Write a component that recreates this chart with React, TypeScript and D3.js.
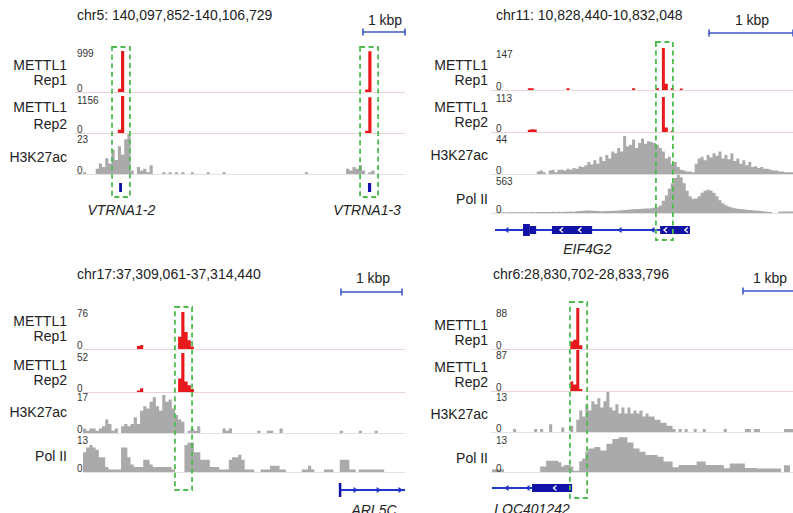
import React from 'react';
import * as d3 from 'd3';

// ---------------- DATA (bin values, 100 bins per panel) ----------------
// Panel 1: chr5 VTRNA1-2 / VTRNA1-3
const p1Rep1 = [
  0, 0, 0, 0, 0, 0, 0, 0, 0, 0,
  0, 80, 999, 0, 0, 0, 0, 0, 0, 0,
  0, 0, 0, 0, 0, 0, 0, 0, 0, 0,
  0, 0, 0, 0, 0, 0, 0, 0, 0, 0,
  0, 0, 0, 0, 0, 0, 0, 0, 0, 0,
  0, 0, 0, 0, 0, 0, 0, 0, 0, 0,
  0, 0, 0, 0, 0, 0, 0, 0, 0, 0,
  0, 0, 0, 0, 0, 0, 0, 0, 0, 0,
  0, 0, 0, 0, 0, 0, 0, 0, 0, 60,
  990, 0, 0, 0, 0, 0, 0, 0, 0, 0,
];
const p1Rep2 = [
  0, 0, 0, 0, 0, 0, 0, 0, 0, 0,
  0, 100, 1156, 0, 0, 0, 0, 0, 0, 0,
  0, 0, 0, 0, 0, 0, 0, 0, 0, 0,
  0, 0, 0, 0, 0, 0, 0, 0, 0, 0,
  0, 0, 0, 0, 0, 0, 0, 0, 0, 0,
  0, 0, 0, 0, 0, 0, 0, 0, 0, 0,
  0, 0, 0, 0, 0, 0, 0, 0, 0, 0,
  0, 0, 0, 0, 0, 0, 0, 0, 0, 0,
  0, 0, 0, 0, 0, 0, 0, 0, 0, 70,
  1120, 0, 0, 0, 0, 0, 0, 0, 0, 0,
];
const p1H3K27ac = [
  1, 0, 0, 0, 3, 6, 4, 9, 6, 14,
  8, 16, 11, 20, 23, 2, 0, 4, 2, 3,
  1, 5, 0, 0, 0, 1, 0, 1, 0, 1,
  0, 1, 0, 0, 1, 0, 0, 0, 0, 1,
  0, 0, 0, 0, 1, 0, 0, 0, 0, 0,
  0, 0, 0, 0, 0, 0, 0, 0, 0, 0,
  0, 0, 0, 0, 0, 0, 0, 0, 0, 0,
  1, 0, 0, 0, 0, 0, 0, 0, 0, 0,
  0, 0, 0, 3, 2, 4, 3, 5, 2, 0,
  1, 2, 0, 0, 0, 0, 0, 0, 0, 0,
];

// Panel 2: chr11 EIF4G2
const p2Rep1 = [
  0, 0, 0, 0, 0, 0, 0, 0, 0, 0,
  0, 6, 6, 0, 0, 0, 0, 0, 0, 0,
  0, 0, 0, 0, 6, 0, 0, 0, 0, 0,
  0, 0, 0, 0, 0, 0, 0, 0, 0, 0,
  0, 0, 0, 0, 0, 0, 6, 0, 0, 0,
  0, 0, 0, 0, 6, 0, 147, 22, 0, 6,
  0, 0, 5, 0, 0, 0, 0, 0, 0, 0,
  0, 0, 0, 0, 0, 0, 0, 0, 0, 0,
  0, 0, 0, 0, 0, 0, 0, 0, 0, 0,
  0, 0, 0, 0, 0, 0, 0, 0, 0, 0,
];
const p2Rep2 = [
  0, 0, 0, 0, 0, 0, 0, 0, 0, 0,
  0, 7, 9, 8, 0, 0, 0, 0, 0, 0,
  0, 0, 0, 0, 0, 0, 0, 0, 0, 0,
  0, 0, 0, 0, 0, 0, 0, 0, 0, 0,
  0, 0, 0, 0, 0, 0, 0, 0, 0, 0,
  0, 0, 0, 0, 0, 0, 110, 14, 0, 4,
  0, 0, 0, 0, 0, 0, 0, 0, 0, 0,
  0, 0, 0, 0, 0, 0, 0, 0, 0, 0,
  0, 0, 0, 0, 0, 0, 0, 0, 0, 0,
  0, 0, 0, 0, 0, 0, 0, 0, 0, 0,
];
const p2H3K27ac = [
  0, 0, 0, 0, 0, 0, 0, 0, 0, 0,
  0, 0, 0, 0, 3, 4, 2, 0, 4, 5,
  2, 5, 5, 4, 6, 5, 7, 6, 9, 8,
  10, 14, 11, 16, 12, 20, 15, 22, 18, 26,
  24, 30, 26, 44, 32, 34, 40, 30, 36, 41,
  35, 38, 37, 36, 34, 30, 26, 18, 20, 12,
  14, 8, 5, 4, 3, 3, 2, 12, 18, 20,
  16, 22, 19, 24, 21, 26, 18, 22, 17, 24,
  15, 18, 12, 16, 10, 14, 8, 9, 7, 8,
  6, 6, 5, 4, 4, 3, 3, 2, 2, 2,
];
const p2PolII = [
  8, 8, 10, 8, 10, 12, 10, 12, 10, 10,
  12, 12, 14, 12, 15, 14, 15, 16, 14, 18,
  15, 18, 16, 20, 18, 22, 20, 25, 30, 35,
  36, 38, 35, 32, 28, 25, 25, 28, 30, 32,
  35, 38, 42, 45, 48, 52, 55, 58, 60, 62,
  65, 68, 72, 78, 85, 110, 180, 260, 360, 440,
  520, 563, 530, 440, 330, 250, 210, 215, 250, 300,
  330, 345, 335, 300, 250, 190, 145, 115, 95, 80,
  70, 62, 58, 52, 48, 45, 42, 38, 34, 28,
  24, 20, 16, 0, 0, 18, 22, 22, 22, 22,
];

// Panel 3: chr17 ARL5C
const p3Rep1 = [
  0, 0, 0, 0, 0, 0, 0, 0, 0, 0,
  0, 0, 0, 0, 0, 0, 0, 6, 8, 0,
  0, 0, 0, 0, 0, 0, 0, 0, 0, 0,
  25, 76, 35, 18, 5, 0, 0, 0, 0, 0,
  0, 0, 0, 0, 0, 0, 0, 0, 0, 0,
  0, 0, 0, 0, 0, 0, 0, 0, 0, 0,
  0, 0, 0, 0, 0, 0, 0, 0, 0, 0,
  0, 0, 0, 0, 0, 0, 0, 0, 0, 0,
  0, 0, 0, 0, 0, 0, 0, 0, 0, 0,
  0, 0, 0, 0, 0, 0, 0, 0, 0, 0,
];
const p3Rep2 = [
  0, 0, 0, 0, 0, 0, 0, 0, 0, 0,
  0, 0, 0, 0, 0, 0, 0, 2, 5, 0,
  0, 0, 0, 0, 0, 0, 0, 0, 0, 0,
  18, 52, 14, 9, 4, 0, 0, 0, 0, 0,
  0, 0, 0, 0, 0, 0, 0, 0, 0, 0,
  0, 0, 0, 0, 0, 0, 0, 0, 0, 0,
  0, 0, 0, 0, 0, 0, 0, 0, 0, 0,
  0, 0, 0, 0, 0, 0, 0, 0, 0, 0,
  0, 0, 0, 0, 0, 0, 0, 0, 0, 0,
  0, 0, 0, 0, 0, 0, 0, 0, 0, 0,
];
const p3H3K27ac = [
  2, 1, 2, 2, 1, 2, 3, 6, 4, 1,
  2, 0, 3, 4, 3, 4, 7, 4, 10, 12,
  11, 14, 16, 12, 10, 17, 14, 15, 11, 8,
  6, 5, 0, 1, 2, 1, 3, 0, 0, 0,
  0, 0, 0, 0, 2, 1, 2, 0, 0, 0,
  0, 0, 0, 0, 0, 1, 0, 0, 1, 1,
  0, 0, 2, 0, 0, 0, 0, 0, 0, 0,
  0, 0, 0, 0, 0, 0, 0, 0, 0, 0,
  0, 1, 0, 0, 0, 0, 0, 1, 0, 0,
  0, 0, 1, 0, 0, 0, 0, 0, 0, 0,
];
const p3PolII = [
  8, 10, 11, 10, 9, 6, 6, 2, 1, 1,
  1, 1, 10, 10, 6, 3, 2, 2, 2, 5,
  5, 3, 2, 2, 2, 2, 2, 2, 1, 0,
  0, 0, 11, 12, 12, 8, 8, 5, 5, 5,
  2, 2, 2, 1, 1, 1, 5, 6, 6, 7,
  5, 1, 1, 1, 0, 0, 1, 1, 1, 2.5,
  2.5, 2.5, 1, 1, 0, 0, 0, 0, 0, 1,
  1, 2.5, 1, 0, 0, 0, 1, 1, 1, 0,
  0, 5, 5, 5, 1, 1, 0, 1, 1, 1,
  1, 1, 1, 1, 1, 0, 0, 0, 0, 0,
];

// Panel 4: chr6 LOC401242
const p4Rep1 = [
  0, 0, 0, 0, 0, 0, 0, 0, 0, 0,
  0, 0, 0, 0, 0, 0, 0, 0, 0, 0,
  0, 0, 0, 0, 0, 0, 16, 20, 88, 8,
  0, 0, 0, 0, 0, 0, 0, 0, 0, 0,
  0, 0, 0, 0, 0, 0, 0, 0, 0, 0,
  0, 0, 0, 0, 0, 0, 0, 0, 0, 0,
  0, 0, 0, 0, 0, 0, 0, 0, 0, 0,
  0, 0, 0, 0, 0, 0, 0, 0, 0, 0,
  0, 0, 0, 0, 0, 0, 0, 0, 0, 0,
  0, 0, 0, 0, 0, 0, 0, 0, 0, 0,
];
const p4Rep2 = [
  0, 0, 0, 0, 0, 0, 0, 0, 0, 0,
  0, 0, 0, 0, 0, 0, 0, 0, 0, 0,
  0, 0, 0, 0, 0, 0, 20, 14, 87, 4,
  0, 0, 0, 0, 0, 0, 0, 0, 0, 0,
  0, 0, 0, 0, 0, 0, 0, 0, 0, 0,
  0, 0, 0, 0, 0, 0, 0, 0, 0, 0,
  0, 0, 0, 0, 0, 0, 0, 0, 0, 0,
  0, 0, 0, 0, 0, 0, 0, 0, 0, 0,
  0, 0, 0, 0, 0, 0, 0, 0, 0, 0,
  0, 0, 0, 0, 0, 0, 0, 0, 0, 0,
];
const p4H3K27ac = [
  0, 0, 0, 0, 0, 0, 0, 1, 0, 0,
  0, 0, 0, 0, 1, 0, 1, 0, 0, 2.5,
  0, 0, 0, 1.5, 0, 0, 2, 0, 4, 7,
  5, 9, 7, 10, 9, 11, 8, 10, 13, 8,
  7, 9, 6, 8, 6, 8, 6, 7, 6, 7,
  5, 6, 5, 5, 4, 4, 3, 3, 2, 2,
  1, 0, 1, 0, 1, 0, 0, 1, 0, 0,
  1, 0, 0, 0, 0, 0, 0, 1, 0, 0,
  0, 0, 0, 0, 1, 1, 0, 1, 1, 0,
  0, 0, 0, 0, 0, 0, 0, 1, 1, 1,
];
const p4PolII = [
  1, 1, 1, 1, 0, 0, 0, 0, 0, 0,
  0, 0, 0, 0, 0, 0, 2, 2, 4.2, 4.2,
  4.2, 4.2, 3.6, 2, 2.6, 2.6, 2, 0.5, 0.5, 4,
  5, 7.5, 8.7, 8.7, 9.3, 9.3, 8, 8, 10.5, 10.5,
  12.3, 12.3, 12.9, 12.9, 12.9, 11, 11, 8.7, 8.7, 7.5,
  7.5, 6.3, 6.3, 6.3, 6.3, 5.7, 5.7, 3.9, 3.9, 3.9,
  1.8, 1.8, 2.6, 2.6, 2.6, 2.6, 2.6, 2.6, 3.9, 3.9,
  3.9, 2.6, 2.6, 2.6, 2.6, 2.6, 2.6, 1.4, 1.4, 3.2,
  3.2, 3.2, 3.2, 3.2, 1.5, 1.5, 1.5, 1.5, 1.3, 1.3,
  1.3, 1.3, 1.3, 1.3, 1.3, 1.3, 0, 2.5, 2.5, 0,
];

// Titles, scale maxima, highlighted regions (bin units), gene models (bin units)
const titles = [
  'chr5: 140,097,852-140,106,729',
  'chr11: 10,828,440-10,832,048',
  'chr17:37,309,061-37,314,440',
  'chr6:28,830,702-28,833,796',
];
const p1Max = [999, 1156, 23];
const p2Max = [147, 113, 44, 563];
const p3Max = [76, 52, 17, 13];
const p4Max = [88, 87, 13, 13];

const p1Boxes = [[9.15, 14.8], [87.4, 93.1]];
const p2Boxes = [[54.0, 59.7]];
const p3Boxes = [[29.0, 34.4]];
const p4Boxes = [[25.9, 31.6]];

const p1Gene = {
  lines: [] as number[][],
  exons: [[11.4, 12.3, 9], [89.9, 90.9, 9]],
  arrows: [] as number[], dir: -1,
  chevrons: [] as number[],
  names: [{ text: 'VTRNA1-2', pos: 12.1 }, { text: 'VTRNA1-3', pos: 89.6 }],
};
const p2Gene = {
  lines: [[0, 65.4]],
  exons: [[9.4, 11.7, 12], [11.7, 13.8, 8], [19.1, 32.6, 8], [55.4, 65.4, 8]],
  arrows: [4, 42, 53], dir: -1,
  chevrons: [22.3, 28.5, 57.2, 64.2],
  names: [{ text: 'EIF4G2', pos: 31 }],
};
const p3Gene = {
  lines: [[81.1, 101.6]],
  exons: [[80.7, 81.5, 14]],
  arrows: [85.8, 93.1, 100], dir: 1,
  chevrons: [] as number[],
  names: [{ text: 'ARL5C', pos: 91.8 }],
};
const p4Gene = {
  lines: [[0, 26.6]],
  exons: [[13.3, 26.6, 8]],
  arrows: [5, 12], dir: -1,
  chevrons: [20.9],
  names: [{ text: 'LOC401242', pos: 13.3 }],
};

// ---------------- STYLE ----------------
const FONT = "Arial, 'Liberation Sans', Helvetica, sans-serif";
const RED = '#e8191c';
const GRAY = '#aaaaaa';
const GREEN = '#4fbb4f';
const GENE_LINE = '#2236c8';
const GENE_EXON = '#1212a6';
const SCALE_BLUE = '#3f57c6';
const TEXT = '#222';

type TrackCfg = {
  label: string[]; values: number[]; max: number; red: boolean;
  top: number; base: number; labelY: number[]; maxY: number;
};
type PanelCfg = {
  title: string; titleX: number; titleY: number;
  labelRight: number; numX: number; x0: number; x1: number; lineX0: number; lineX1: number;
  tracks: TrackCfg[];
  sb: { x1: number; x2: number; y: number; tx: number; ty: number };
  boxes: number[][]; boxY: [number, number];
  gene: typeof p2Gene; geneY: number; nameY: number;
};

function Panel({ cfg }: { cfg: PanelCfg }) {
  const x = d3.scaleLinear().domain([0, 100]).range([cfg.x0, cfg.x1]);
  const g = cfg.gene;
  return (
    <g>
      <text x={cfg.titleX} y={cfg.titleY} fontSize={14} fill={TEXT}>{cfg.title}</text>
      <text x={cfg.sb.tx} y={cfg.sb.ty} fontSize={14} fill={TEXT} textAnchor="middle">1 kbp</text>
      <line x1={cfg.sb.x1} x2={cfg.sb.x2} y1={cfg.sb.y} y2={cfg.sb.y} stroke={SCALE_BLUE} strokeWidth={1.6} />
      <line x1={cfg.sb.x1} x2={cfg.sb.x1} y1={cfg.sb.y - 3.5} y2={cfg.sb.y + 3.5} stroke={SCALE_BLUE} strokeWidth={1.6} />
      <line x1={cfg.sb.x2} x2={cfg.sb.x2} y1={cfg.sb.y - 3.5} y2={cfg.sb.y + 3.5} stroke={SCALE_BLUE} strokeWidth={1.6} />
      {cfg.tracks.map((t, k) => {
        const y = d3.scaleLinear().domain([0, t.max]).range([t.base, t.top]);
        const pts: [number, number][] = t.values.map((v, i) => [i, v] as [number, number]);
        pts.push([t.values.length, t.values[t.values.length - 1]]);
        const path = d3.area<[number, number]>()
          .x((d) => x(d[0]))
          .y0(t.base)
          .y1((d) => y(d[1]))
          .curve(d3.curveStepAfter)(pts) || '';
        return (
          <g key={k}>
            <line x1={cfg.lineX0} x2={cfg.lineX1} y1={t.base + 0.5} y2={t.base + 0.5}
              stroke={t.red ? '#ecd2d2' : '#e2e2e2'} strokeWidth={1} />
            <path d={path} fill={t.red ? RED : GRAY} />
            {t.label.map((s, j) => (
              <text key={j} x={cfg.labelRight} y={t.labelY[j] + 5} fontSize={14} fill={TEXT} textAnchor="end">{s}</text>
            ))}
            <text x={cfg.numX} y={t.maxY + 3.6} fontSize={10} fill="#333">{String(t.max)}</text>
            <text x={cfg.numX} y={t.base - 4 + 3.6} fontSize={10} fill="#333">0</text>
          </g>
        );
      })}
      {/* gene model */}
      <g>
        {g.lines.map((l, i) => (
          <line key={'l' + i} x1={x(l[0])} x2={x(l[1])} y1={cfg.geneY} y2={cfg.geneY} stroke={GENE_LINE} strokeWidth={2} />
        ))}
        {g.arrows.map((a, i) => {
          const cx = x(a);
          const cy = cfg.geneY;
          const d = g.dir < 0
            ? `M${cx - 3},${cy} L${cx + 1.5},${cy - 3} L${cx + 1.5},${cy + 3} Z`
            : `M${cx + 3},${cy} L${cx - 1.5},${cy - 3} L${cx - 1.5},${cy + 3} Z`;
          return <path key={'a' + i} d={d} fill={GENE_LINE} />;
        })}
        {g.exons.map((e, i) => (
          <rect key={'e' + i} x={x(e[0])} width={Math.max(1.5, x(e[1]) - x(e[0]))}
            y={cfg.geneY - e[2] / 2} height={e[2]} fill={GENE_EXON} />
        ))}
        {g.chevrons.map((c, i) => {
          const cx = x(c);
          const cy = cfg.geneY;
          return <polyline key={'c' + i} points={`${cx + 1.5},${cy - 2.5} ${cx - 1.5},${cy} ${cx + 1.5},${cy + 2.5}`}
            fill="none" stroke="#fff" strokeWidth={1.3} />;
        })}
        {g.names.map((n, i) => (
          <text key={'n' + i} x={x(n.pos)} y={cfg.nameY} fontSize={14} fontStyle="italic" fill={TEXT} textAnchor="middle">{n.text}</text>
        ))}
      </g>
      {cfg.boxes.map((b, i) => (
        <rect key={'b' + i} x={x(b[0])} width={x(b[1]) - x(b[0])} y={cfg.boxY[0]} height={cfg.boxY[1] - cfg.boxY[0]}
          fill="none" stroke={GREEN} strokeWidth={1.8} strokeDasharray="5 3.5" />
      ))}
    </g>
  );
}

export default function App() {
  const mk = (label: string[], values: number[], max: number, red: boolean, top: number, base: number, labelY: number[], maxY: number): TrackCfg =>
    ({ label, values, max, red, top, base, labelY, maxY });

  const panels: PanelCfg[] = [
    {
      title: titles[0], titleX: 77, titleY: 20, labelRight: 67, numX: 77, x0: 83, x1: 400, lineX0: 75, lineX1: 405,
      tracks: [
        mk(['METTL1', 'Rep1'], p1Rep1, p1Max[0], true, 51, 92, [65, 80], 53),
        mk(['METTL1', 'Rep2'], p1Rep2, p1Max[1], true, 96, 133, [107, 124], 100),
        mk(['H3K27ac'], p1H3K27ac, p1Max[2], false, 134, 174, [157], 139),
      ],
      sb: { x1: 363, x2: 405, y: 32, tx: 385, ty: 25 },
      boxes: p1Boxes, boxY: [47, 197], gene: p1Gene, geneY: 187.5, nameY: 215,
    },
    {
      title: titles[1], titleX: 496, titleY: 20, labelRight: 488, numX: 496, x0: 495, x1: 793, lineX0: 491, lineX1: 793,
      tracks: [
        mk(['METTL1', 'Rep1'], p2Rep1, p2Max[0], true, 48, 90, [65, 80], 54),
        mk(['METTL1', 'Rep2'], p2Rep2, p2Max[1], true, 96, 132, [107, 122], 98),
        mk(['H3K27ac'], p2H3K27ac, p2Max[2], false, 136, 174, [155], 139),
        mk(['Pol II'], p2PolII, p2Max[3], false, 175, 213, [199], 181),
      ],
      sb: { x1: 709, x2: 793, y: 33, tx: 752, ty: 25 },
      boxes: p2Boxes, boxY: [42, 240], gene: p2Gene, geneY: 230, nameY: 254,
    },
    {
      title: titles[2], titleX: 77, titleY: 279, labelRight: 67, numX: 77, x0: 83, x1: 400, lineX0: 83, lineX1: 405,
      tracks: [
        mk(['METTL1', 'Rep1'], p3Rep1, p3Max[0], true, 312, 349, [321, 336], 313),
        mk(['METTL1', 'Rep2'], p3Rep2, p3Max[1], true, 353, 392, [365, 380], 357),
        mk(['H3K27ac'], p3H3K27ac, p3Max[2], false, 395, 433, [412], 397),
        mk(['Pol II'], p3PolII, p3Max[3], false, 440, 472, [456], 440),
      ],
      sb: { x1: 341, x2: 402, y: 292, tx: 373, ty: 283 },
      boxes: p3Boxes, boxY: [307, 490], gene: p3Gene, geneY: 490, nameY: 515,
    },
    {
      title: titles[3], titleX: 493, titleY: 279, labelRight: 488, numX: 496, x0: 492, x1: 793, lineX0: 491, lineX1: 793,
      tracks: [
        mk(['METTL1', 'Rep1'], p4Rep1, p4Max[0], true, 308, 349, [325, 340], 313),
        mk(['METTL1', 'Rep2'], p4Rep2, p4Max[1], true, 350, 391, [367, 382], 355),
        mk(['H3K27ac'], p4H3K27ac, p4Max[2], false, 392, 432, [414], 397),
        mk(['Pol II'], p4PolII, p4Max[3], false, 437, 472, [458], 440),
      ],
      sb: { x1: 743, x2: 840, y: 291, tx: 770, ty: 283 },
      boxes: p4Boxes, boxY: [302, 498], gene: p4Gene, geneY: 488, nameY: 514,
    },
  ];

  return (
    <svg width={793} height={513} viewBox="0 0 793 513"
      style={{ position: 'absolute', left: 0, top: 0, background: '#fff', fontFamily: FONT, overflow: 'hidden' }}>
      <rect x={0} y={0} width={793} height={513} fill="#fff" />
      {panels.map((p, i) => <Panel key={i} cfg={p} />)}
    </svg>
  );
}
